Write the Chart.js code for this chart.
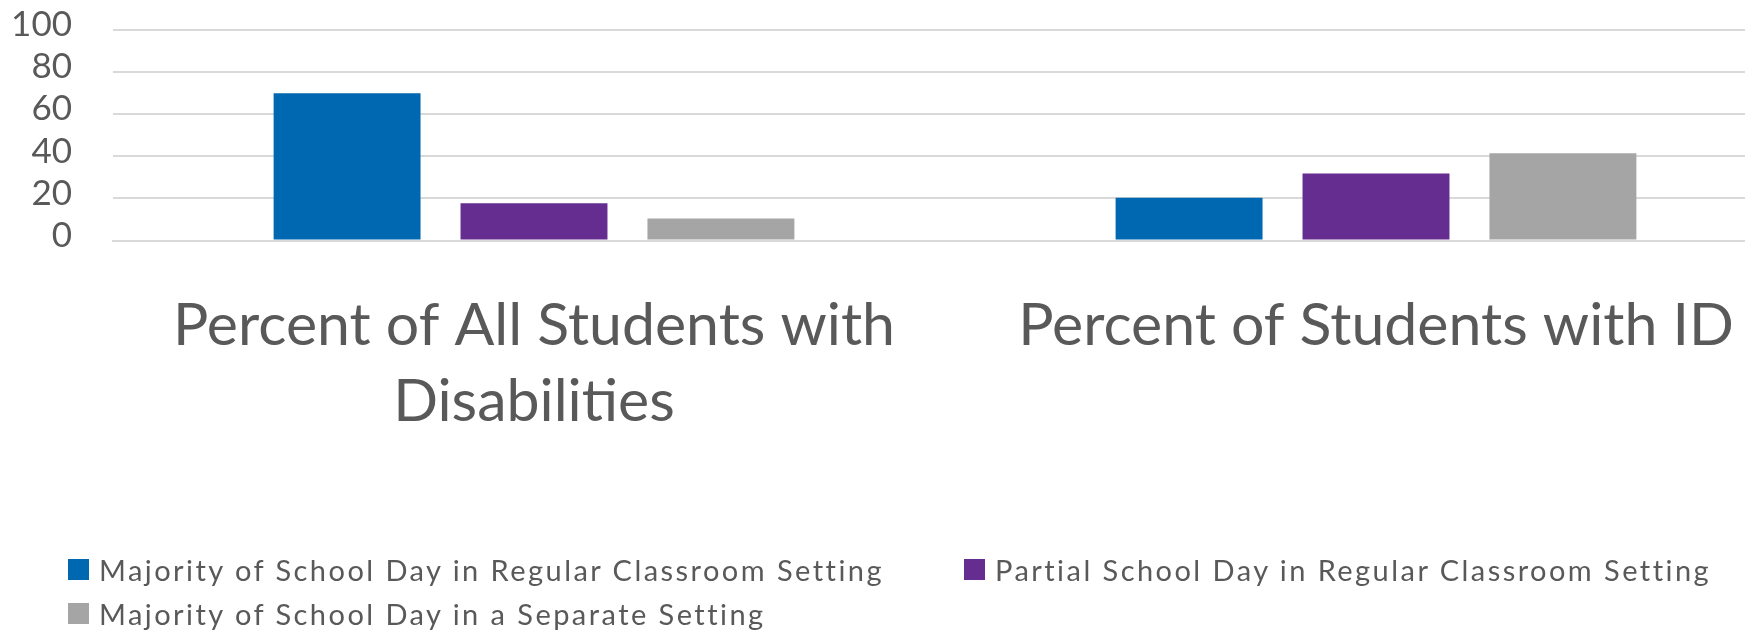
<!DOCTYPE html>
<html>
<head>
<meta charset="utf-8">
<script src="https://cdn.jsdelivr.net/npm/chart.js@4/dist/chart.umd.min.js"></script>
<style>
  html, body { margin: 0; padding: 0; background: #ffffff; }
  #clip { position: absolute; left: 0; top: 0; width: 1745px; height: 631px; overflow: hidden; }
  #wrap { position: absolute; left: 0; top: 0; width: 1800px; height: 631px; }
  #legend { position: absolute; left: 68px; top: 551px; display: grid; grid-template-columns: 896px auto; row-gap: 7px;
            font-family: Lato, "Noto Sans", sans-serif; font-size: 29px; color: #595959; letter-spacing: 2.45px; }
  .item { display: flex; align-items: center; height: 37px; white-space: pre; }
  .box { width: 21px; height: 21px; margin-right: 10px; flex: none; }
</style>
</head>
<body>
<div id="clip">
  <div id="wrap"><canvas id="c"></canvas></div>
</div>
<div id="legend"></div>
<script>
const categories = [
  ["Percent of All Students with", "Disabilities"],
  "Percent of Students with ID"
];
const seriesNames = [
  "Majority of School Day in Regular Classroom Setting",
  "Partial School Day in Regular Classroom Setting",
  "Majority of School Day in a Separate Setting"
];
const majorityRegular = [70, 20.3];
const partialRegular = [17.7, 31.8];
const majoritySeparate = [10.4, 41.4];
const yTicks = [0, 20, 40, 60, 80, 100];
const seriesColors = ["#0067B1", "#642D8F", "#A5A5A5"];
const seriesValues = [majorityRegular, partialRegular, majoritySeparate];

const datasets = seriesNames.map((name, i) => ({
  label: name,
  data: seriesValues[i],
  backgroundColor: seriesColors[i],
  borderWidth: 0,
  categoryPercentage: 0.666,
  barPercentage: 0.786
}));

new Chart(document.getElementById('c'), {
  type: 'bar',
  data: { labels: categories, datasets },
  options: {
    responsive: true,
    maintainAspectRatio: false,
    animation: false,
    devicePixelRatio: 1,
    layout: { padding: { top: 30, right: 3, left: 0, bottom: 0 } },
    plugins: { legend: { display: false }, tooltip: { enabled: false } },
    scales: {
      y: {
        min: 0, max: 100,
        afterBuildTicks: (s) => { s.ticks = yTicks.map(v => ({ value: v })); },
        afterFit: (s) => { s.width = 113; },
        ticks: { color: '#595959', font: { family: 'Lato', size: 35 }, padding: 9, labelOffset: -5, autoSkip: false },
        grid: { color: '#d9d9d9', lineWidth: 2, drawTicks: true, tickLength: 32, tickColor: 'rgba(0,0,0,0)' },
        border: { display: false }
      },
      x: {
        afterFit: (s) => { s.height = 390.5; },
        ticks: { color: '#595959', font: { family: 'Lato', size: 59, lineHeight: 1.28 }, padding: 48, maxRotation: 0, autoSkip: false },
        grid: { display: false, drawTicks: false },
        border: { display: true, color: '#d9d9d9', width: 2 }
      }
    }
  }
});

const legend = document.getElementById('legend');
seriesNames.forEach((name, i) => {
  const it = document.createElement('div');
  it.className = 'item';
  const b = document.createElement('span');
  b.className = 'box';
  b.style.background = seriesColors[i];
  const t = document.createElement('span');
  t.textContent = name;
  it.appendChild(b); it.appendChild(t);
  legend.appendChild(it);
});
</script>
</body>
</html>
